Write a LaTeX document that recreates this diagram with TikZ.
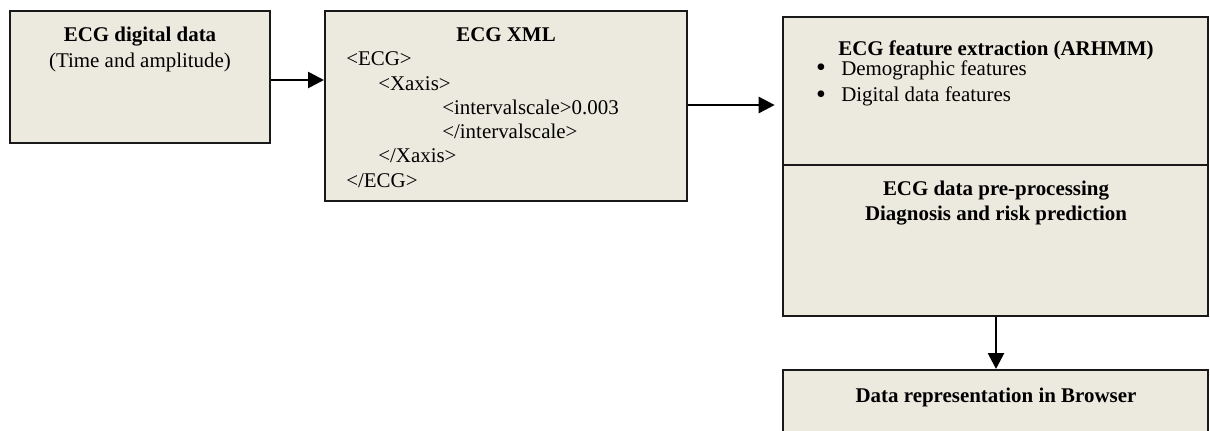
\documentclass[tikz,border=0pt]{standalone}
\usepackage{fontspec}
\setmainfont{Liberation Serif}
\usetikzlibrary{arrows.meta,fit}
\definecolor{boxfill}{RGB}{236,233,222}
\tikzset{
  box/.style={draw=black!90, line width=1.5pt, fill=boxfill, inner sep=0pt, fit={#1}},
  lbl/.style={inner sep=0pt, font=\fontsize{15.7pt}{18pt}\selectfont},
  ttl/.style={lbl, anchor=base, font=\fontsize{15.7pt}{18pt}\selectfont\bfseries},
  ln/.style={lbl, anchor=base west},
  dot/.style={inner sep=0pt, anchor=base, text height=9pt, text depth=0pt,
              font=\fontsize{21pt}{21pt}\selectfont},
  flow/.style={line width=2pt, -{Triangle[length=12pt,width=12pt]}}
}
\begin{document}
\begin{tikzpicture}[x=0.75pt, y=-0.75pt]
\useasboundingbox (0,0) rectangle (1210,430);
\clip (0,0) rectangle (1210,430);

% boxes
\node[box={(10,11) (270,143)}] (raw) {};
\node[box={(325,11) (687,201)}] (xml) {};
\node[box={(783,17) (1208,165)}] (feat) {};
\node[box={(783,165) (1208,316)}] (diag) {};
\node[box={(783,370) (1208,445)}] (web) {};

% raw data box
\node[ttl] (rawT) at (140,41) {ECG digital data};
\node[lbl, anchor=base] (rawS) at (140,67) {(Time and amplitude)};

% XML box
\node[ttl] (xmlT) at (506,41) {ECG XML};
\node[ln] (x1) at (346,65) {<ECG>};
\node[ln] (x2) at (378,90) {<Xaxis>};
\node[ln] (x3) at (442,114) {<intervalscale>0.003};
\node[ln] (x4) at (442,138) {</intervalscale>};
\node[ln] (x5) at (378,162) {</Xaxis>};
\node[ln] (x6) at (346,187) {</ECG>};

% feature extraction
\node[ttl] (featT) at (996,55) {ECG feature extraction (ARHMM)};
\node[dot] (bul1) at (821,76) {•};
\node[ln] (f1) at (841,75) {Demographic features};
\node[dot] (bul2) at (821,103) {•};
\node[ln] (f2) at (841,101) {Digital data features};

% pre-processing and diagnosis
\node[ttl] (diagT1) at (996,195) {ECG data pre-processing};
\node[ttl] (diagT2) at (996,220) {Diagnosis and risk prediction};

% browser
\node[ttl] (webT) at (996,402) {Data representation in Browser};

% connectors
\draw[flow] (raw.east |- 0,80) -- (xml.west |- 0,80);
\draw[flow, shorten >=5.5pt] (xml.east |- 0,105) -- (feat.west |- 0,105);
\draw[flow] (diag.south -| 996,0) -- (web.north -| 996,0);
\end{tikzpicture}
\end{document}
